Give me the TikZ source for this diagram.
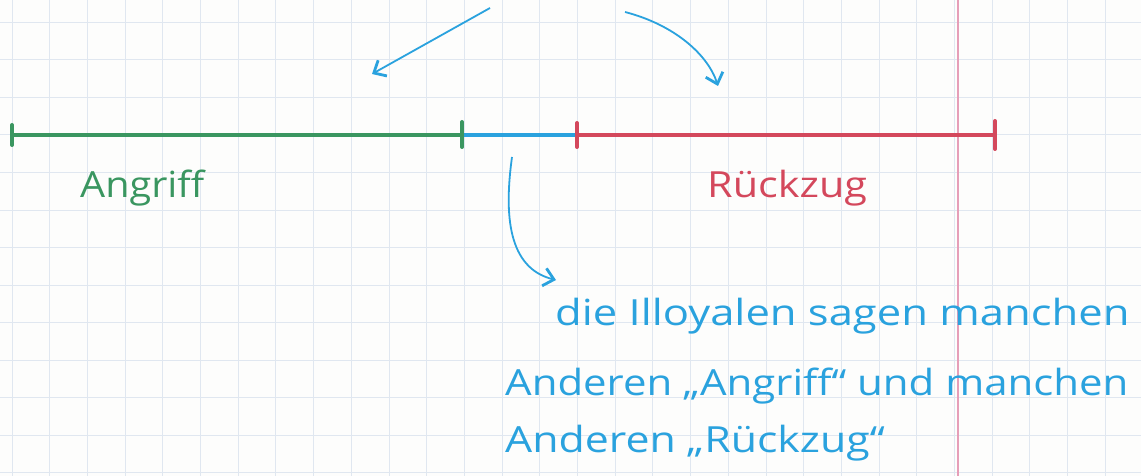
\documentclass[tikz,border=0pt]{standalone}
\usepackage{fontspec}
\setmainfont{Open Sans}
\usetikzlibrary{arrows.meta}
\definecolor{gridc}{RGB}{224,231,240}
\definecolor{marginc}{RGB}{230,158,184}
\definecolor{penG}{RGB}{58,150,96}
\definecolor{penB}{RGB}{42,162,222}
\definecolor{penR}{RGB}{212,72,92}
\definecolor{paper}{RGB}{253,253,252}
\tikzset{
  gridline/.style={gridc, line width=1pt},
  seg/.style={line width=3.2pt, line cap=round},
  tickmark/.style={line width=4pt, line cap=round},
  penarrow/.style={penB, line width=1.8pt, -{Straight Barb[length=10pt,width=18pt,line width=2.8pt]}},
  hand/.style={font=\fontsize{36}{42}\selectfont, inner sep=0pt, anchor=base west},
}
\newcommand{\wideX}[2]{\scalebox{#1}[1]{#2}}
\begin{document}
\begin{tikzpicture}[x=1pt,y=-1pt]
\useasboundingbox (0,0) rectangle (1141,476);
\fill[paper] (0,0) rectangle (1141,476);
% grid
\foreach \k in {0,...,30} { \draw[gridline] (12+37.7*\k,0) -- (12+37.7*\k,476); }
\foreach \k in {0,...,12} { \draw[gridline] (0,22.5+37.5*\k) -- (1141,22.5+37.5*\k); }
% margin
\draw[marginc, line width=1.3pt] (958,0) -- (958,476);
% axis points
\coordinate (g0) at (12,135);
\coordinate (g1) at (462,135);
\coordinate (r0) at (577,135);
\coordinate (r1) at (995,135);
\draw[seg, penG] (g0) -- (g1);
\draw[seg, penB] (g1) -- (r0);
\draw[seg, penR] (r0) -- (r1);
\draw[tickmark, penG] ([yshift=-10]g0) -- ([yshift=10]g0);
\draw[tickmark, penG] ([yshift=-12]g1) -- ([yshift=13]g1);
\draw[tickmark, penR] ([yshift=-12]r0) -- ([yshift=12]r0);
\draw[tickmark, penR] ([yshift=-14]r1) -- ([yshift=14]r1);
% labels
\node[hand, text=penG] (angr) at (80,197) {\wideX{1.1}{Angriff}};
\node[hand, text=penR] (rueck) at (707,197) {\wideX{1.15}{Rückzug}};
\node[hand, text=penB] (l1) at (555,325) {\wideX{1.21}{die Illoyalen sagen manchen}};
\node[hand, text=penB] (l2) at (505,395) {\wideX{1.165}{Anderen „Angriff“ und manchen}};
\node[hand, text=penB] (l3) at (505,452) {\wideX{1.19}{Anderen „Rückzug“}};
% arrows
\coordinate (a1s) at (490,8);
\coordinate (a1e) at (372,74);
\draw[penarrow] (a1s) -- (a1e);
\coordinate (a2s) at (625,12);
\coordinate (a2e) at (718,86);
\draw[penarrow] (a2s) .. controls (675,25) and (708,55) .. (a2e);
\coordinate (a3s) at (512,157);
\coordinate (a3e) at (556,280);
\draw[penarrow] (a3s) .. controls (504,215) and (508,268) .. (a3e);
\end{tikzpicture}
\end{document}
